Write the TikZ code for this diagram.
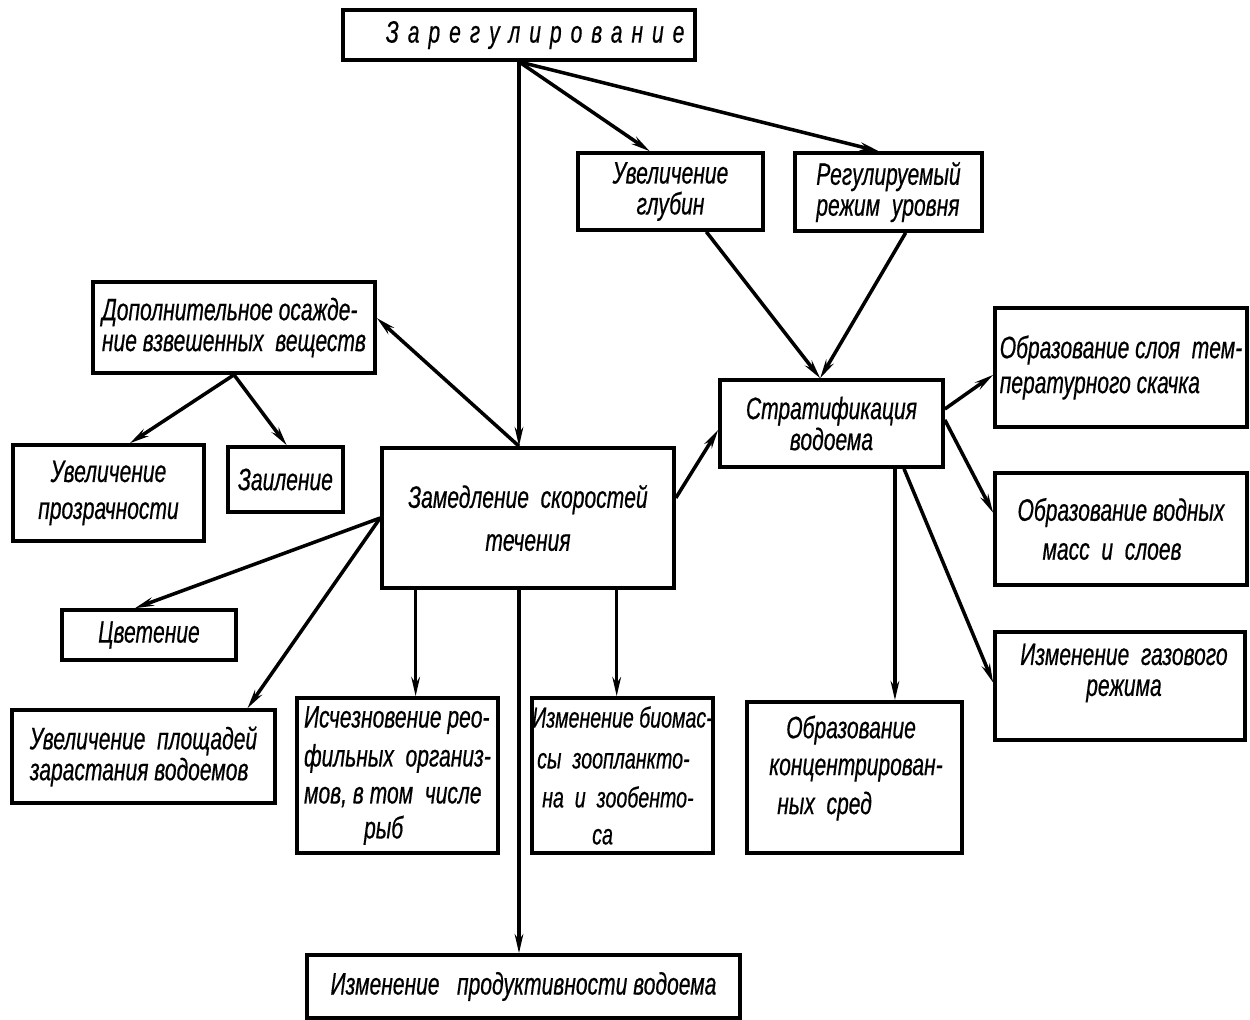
\documentclass[tikz,border=0pt]{standalone}
\usepackage{fontspec}
\newfontfamily\handfont{Liberation Sans}[FakeStretch=0.68,FakeBold=0.5]
\usetikzlibrary{arrows.meta,calc}
\begin{document}
\begin{tikzpicture}[x=0.01cm,y=-0.01cm,
  handtext/.style={font=\handfont\itshape\fontsize{8.8}{8.8}\selectfont},
  box/.style={draw,line width=1pt,inner sep=0pt,handtext},
  lbl/.style={inner sep=0pt,handtext},
  link/.style={line width=1pt,-{Stealth[length=0.19cm,width=0.085cm]}}]
\useasboundingbox (0,0) rectangle (1250,1020);

% top row
\node[box,minimum width=3.52cm,minimum height=0.50cm,text width=3.3cm,align=left] (top) at (519,35)
  {\hspace*{0.32cm}{\addfontfeatures{LetterSpace=29}Зарегулирование}};
\node[box,minimum width=1.85cm,minimum height=0.77cm,align=center] (glub) at (670.5,191.5)
  {Увеличение\\глубин};
\node[box,minimum width=1.87cm,minimum height=0.78cm,align=left] (reg) at (888.5,192)
  {Регулируемый\\режим\ \ уровня};

% left branch
\node[box,minimum width=2.82cm,minimum height=0.91cm,align=left] (dop) at (234,327.5)
  {Дополнительное осажде-\\ние взвешенных\ \ веществ};
\node[box,minimum width=1.91cm,minimum height=0.96cm,align=center] (prozr) at (108.5,493)
  {Увеличение\\[0.06cm]прозрачности};
\node[box,minimum width=1.15cm,minimum height=0.65cm] (zail) at (285.5,479.5)
  {Заиление};
\node[box,minimum width=1.74cm,minimum height=0.50cm] (tsvet) at (149,635)
  {Цветение};
\node[box,minimum width=2.63cm,minimum height=0.93cm,align=left] (plosh) at (143.5,756.5)
  {Увеличение\ \ площадей\\зарастания водоемов};

% centre
\node[box,minimum width=2.92cm,minimum height=1.40cm,align=center] (zam) at (528,518)
  {Замедление\ \ скоростей\\[0.12cm]течения};
\node[box,minimum width=2.01cm,minimum height=1.55cm,align=left] (ischez) at (397.5,775.5)
  {Исчезновение рео-\\[0.08cm]фильных\ \ организ-\\[0.06cm]мов, в том\ \ числе\\[0.04cm]\hspace*{0.6cm}рыб};
\node[box,minimum width=1.81cm,minimum height=1.55cm,align=left,
      font=\handfont\itshape\fontsize{8.2}{8.8}\selectfont] (biom) at (622.5,775.5)
  {Изменение биомас-\\[0.1cm]\hspace*{0.05cm}сы\ \ зоопланкто-\\[0.08cm]\hspace*{0.1cm}на\ \ и\ \ зообенто-\\[0.06cm]\hspace*{0.6cm}са};
\node[box,minimum width=4.33cm,minimum height=0.63cm] (prod) at (523.5,986.5)
  {Изменение\ \ \ продуктивности водоема};

% right branch
\node[box,minimum width=2.23cm,minimum height=0.87cm,align=center] (strat) at (831.5,423.5)
  {Стратификация\\водоема};
\node[box,minimum width=2.52cm,minimum height=1.19cm,align=left] (sloy) at (1121,367.5)
  {Образование слоя\ \ тем-\\[0.04cm]пературного скачка};
\node[box,minimum width=2.52cm,minimum height=1.12cm,align=left] (mass) at (1121,529)
  {Образование водных\\[0.08cm]\hspace*{0.25cm}масс\ \ и\ \ слоев};
\node[box,minimum width=2.50cm,minimum height=1.08cm] (gaz) at (1120,686) {};
\node[lbl,align=center] (gazT) at (1124,673) {Изменение\ \ газового\\режима};
\node[box,minimum width=2.15cm,minimum height=1.51cm] (konc) at (854.5,777.5) {};
\node[lbl,align=left] (koncT) at (856,768)
  {\hspace*{0.17cm}Образование\\[0.06cm]концентрирован-\\[0.08cm]\hspace*{0.08cm}ных\ \ сред};

% connectors from the top box
\draw[link] (top.south) -- (top.south |- zam.north);
\draw[link] (top.south) -- ($(glub.north west)!0.39!(glub.north east)$);
\draw[link] (top.south) -- ($(reg.north west)!0.45!(reg.north east)$);
\draw[link] ($(glub.south west)!0.69!(glub.south east)$) -- ($(strat.north west)!0.45!(strat.north east)$);
\draw[link] ($(reg.south west)!0.59!(reg.south east)$) -- ($(strat.north west)!0.45!(strat.north east)$);

% connectors from the centre box
\draw[link] (top.south |- zam.north) -- ($(dop.north east)!0.40!(dop.south east)$);
\draw[link] (dop.south) -- ($(prozr.north west)!0.61!(prozr.north east)$);
\draw[link] (dop.south) -- ($(zail.north west)!0.51!(zail.north east)$);
\draw[link] ($(zam.north east)!0.36!(zam.south east)$) -- ($(strat.north west)!0.57!(strat.south west)$);
\draw[link] (zam.west) -- ($(tsvet.north west)!0.42!(tsvet.north east)$);
\draw[link] (zam.west) -- ($(plosh.north west)!0.89!(plosh.north east)$);
\coordinate (zamA) at ($(zam.south west)!0.12!(zam.south east)$);
\coordinate (zamB) at (top.south |- zam.south);
\coordinate (zamC) at ($(zam.south west)!0.80!(zam.south east)$);
\draw[link] (zamA) -- (zamA |- ischez.north);
\draw[link] (zamB) -- (zamB |- prod.north);
\draw[link] (zamC) -- (zamC |- biom.north);

% connectors from the stratification box
\draw[link] ($(strat.north east)!0.34!(strat.south east)$) -- ($(sloy.north west)!0.56!(sloy.south west)$);
\draw[link] ($(strat.north east)!0.46!(strat.south east)$) -- ($(mass.north west)!0.36!(mass.south west)$);
\coordinate (stratA) at ($(strat.south west)!0.78!(strat.south east)$);
\draw[link] (stratA) -- (stratA |- konc.north);
\draw[link] ($(strat.south west)!0.82!(strat.south east)$) -- ($(gaz.north west)!0.47!(gaz.south west)$);
\end{tikzpicture}
\end{document}
